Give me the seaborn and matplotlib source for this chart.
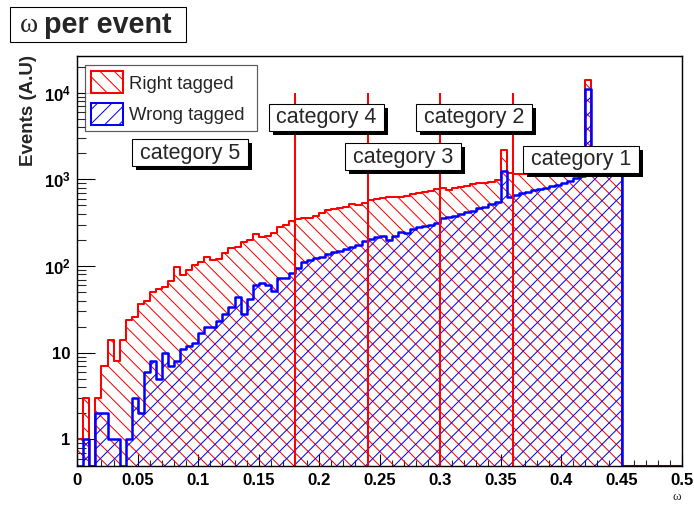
import numpy as np
import pandas as pd
import matplotlib
matplotlib.use("Agg")
import matplotlib.pyplot as plt
import matplotlib.transforms as mtransforms
from matplotlib.patches import Rectangle, Patch
import seaborn as sns

# ---------------------------------------------------------------- data
# omega histogram: 100 bins of width 0.005 between 0 and 0.5
BIN_LO, BIN_HI, N_BINS = 0.0, 0.5, 100

right_tagged = [
    1, 3, 0, 3, 7, 14, 8, 14, 24, 26,
    37, 40, 50, 55, 58, 67, 97, 78, 90, 103,
    112, 128, 117, 120, 140, 160, 167, 191, 200, 233,
    218, 221, 243, 285, 298, 330, 349, 356, 362, 381,
    405, 443, 454, 470, 483, 514, 506, 540, 578, 588,
    606, 622, 622, 628, 644, 670, 690, 710, 740, 766,
    790, 755, 800, 820, 845, 875, 900, 915, 945, 983,
    2180, 1170, 1160, 1160, 1150, 1150, 1150, 1140, 1150, 1150,
    1150, 1150, 1160, 1160, 14000, 1160, 1160, 1150, 1150, 1150,
    0, 0, 0, 0, 0, 0, 0, 0, 0, 0,
]

wrong_tagged = [
    0, 1, 0, 2, 2, 1, 1, 0, 1, 3,
    2, 6, 8, 5, 10, 7, 8, 11, 12, 13,
    17, 20, 20, 23, 28, 34, 44, 28, 42, 60,
    64, 60, 52, 72, 72, 83, 94, 112, 117, 125,
    128, 137, 144, 149, 157, 167, 175, 195, 208, 218,
    223, 200, 225, 250, 243, 265, 280, 290, 297, 310,
    356, 365, 378, 400, 424, 437, 464, 483, 519, 552,
    1260, 632, 660, 690, 720, 750, 770, 790, 830, 870,
    920, 970, 1030, 1090, 11000, 1110, 1110, 1120, 1120, 1130,
    0, 0, 0, 0, 0, 0, 0, 0, 0, 0,
]

series_names = ["Right tagged", "Wrong tagged"]

# omega boundaries between the tagging categories
category_cuts = [0.18, 0.24, 0.30, 0.36]
category_names = ["category 5", "category 4", "category 3", "category 2", "category 1"]

x_tick_values = [0, 0.05, 0.1, 0.15, 0.2, 0.25, 0.3, 0.35, 0.4, 0.45, 0.5]
x_tick_labels = ["0", "0.05", "0.1", "0.15", "0.2", "0.25", "0.3", "0.35", "0.4", "0.45", "0.5"]
y_tick_values = [1, 10, 100, 1000, 10000]
y_tick_labels = ["1", "10", r"$\mathbf{10^{2}}$", r"$\mathbf{10^{3}}$", r"$\mathbf{10^{4}}$"]

# ---------------------------------------------------------------- style
W, H, DPI = 694, 505, 86
RED, BLUE = "#ff0000", "#0000ff"
Y_MIN, Y_MAX = 0.4945, 26500.0
CUT_TOP = 1.0e4

sns.set_theme(style="white")
plt.rcParams["font.family"] = ["Liberation Sans", "DejaVu Sans"]
plt.rcParams["mathtext.fontset"] = "custom"
plt.rcParams["mathtext.rm"] = "Liberation Sans"
plt.rcParams["mathtext.bf"] = "Liberation Sans:bold"
plt.rcParams["hatch.linewidth"] = 0.85

fig = plt.figure(figsize=(W / DPI, H / DPI), dpi=DPI)
fig.patch.set_facecolor("white")
# pixel coordinates with the origin in the top-left corner
px = mtransforms.Affine2D().scale(1.0 / W, -1.0 / H).translate(0, 1) + fig.transFigure

ax_left, ax_top, ax_right, ax_bottom = 77.3, 56.0, 682.0, 466.0
ax = fig.add_axes([ax_left / W, 1 - ax_bottom / H,
                   (ax_right - ax_left) / W, (ax_bottom - ax_top) / H])
ax.set_facecolor("white")

edges = np.linspace(BIN_LO, BIN_HI, N_BINS + 1)
centers = 0.5 * (edges[:-1] + edges[1:])
df = pd.DataFrame({
    "omega": centers,
    series_names[0]: right_tagged,
    series_names[1]: wrong_tagged,
})
# empty bins are drawn on the lower edge of the frame
for name in series_names:
    df[name + " shown"] = df[name].clip(lower=Y_MIN)

for name, color, hatch, lw in [(series_names[0], RED, "\\\\", 1.7),
                               (series_names[1], BLUE, "//", 2.1)]:
    sns.histplot(data=df, x="omega", weights=name + " shown",
                 bins=edges.tolist(), element="step", fill=True, color=color,
                 facecolor="none", edgecolor=color, hatch=hatch, linewidth=lw, ax=ax)

ax.vlines(category_cuts, Y_MIN, CUT_TOP, colors=RED, linewidth=1.7, zorder=4)

ax.set_yscale("log")
ax.set_xlim(BIN_LO, BIN_HI)
ax.set_ylim(Y_MIN, Y_MAX)
ax.set_xlabel("")
ax.set_ylabel("")

ax.set_xticks(x_tick_values)
ax.set_xticklabels(x_tick_labels, fontweight="bold", fontsize=14)
ax.set_xticks(np.arange(0.0, 0.5001, 0.01), minor=True)
ax.set_yticks(y_tick_values)
ax.set_yticklabels(y_tick_labels, fontweight="bold", fontsize=14)
minor_y = [m * 10.0 ** e for e in range(-1, 5) for m in range(2, 10)]
ax.set_yticks([v for v in minor_y if Y_MIN <= v <= Y_MAX], minor=True)
ax.yaxis.set_minor_formatter(matplotlib.ticker.NullFormatter())
ax.tick_params(axis="x", which="major", direction="in", length=10, width=0.9,
               pad=5.5, bottom=True, top=False, colors="black")
ax.tick_params(axis="x", which="minor", direction="in", length=5, width=0.9,
               bottom=True, top=False)
ax.tick_params(axis="y", which="major", direction="in", length=15, width=0.9,
               pad=5.5, left=True, right=False, colors="black")
ax.tick_params(axis="y", which="minor", direction="in", length=7.5, width=0.9,
               left=True, right=False)
for s in ax.spines.values():
    s.set_color("black")
    s.set_linewidth(1.2)
    s.set_zorder(6)

# axis titles
fig.text(29, 55, "Events (A.U)", transform=px, rotation=90, ha="center", va="top",
         fontsize=15.7, fontweight="bold")
fig.text(677, 497, "ω", transform=px, ha="center", va="center",
         fontsize=11, family=["Liberation Serif", "DejaVu Serif"])

# legend
handles = [
    Patch(facecolor="white", edgecolor=RED, hatch="\\\\", linewidth=1.7, label=series_names[0]),
    Patch(facecolor="white", edgecolor=BLUE, hatch="//", linewidth=1.7, label=series_names[1]),
]
leg = ax.legend(handles=handles, loc="upper left", mode="expand",
                bbox_to_anchor=(85 / W, 1 - 133 / H, 172 / W, 68 / H),
                bbox_transform=fig.transFigure,
                borderaxespad=0, fancybox=False, frameon=True, fontsize=15.5,
                handlelength=1.7, handleheight=1.45, handletextpad=0.3,
                labelspacing=0.5, borderpad=0.35)
leg.get_frame().set_edgecolor("#333333")
leg.get_frame().set_linewidth(1.0)
leg.set_zorder(10)


def pave(x0, y0, x1, y1, shadow=4):
    """White box in pixel coordinates, optionally with a black drop shadow."""
    if shadow:
        fig.add_artist(Rectangle((x0 + shadow, y0 + shadow), x1 - x0, y1 - y0,
                                 transform=px, facecolor="black", edgecolor="black",
                                 linewidth=0, zorder=20))
    fig.add_artist(Rectangle((x0, y0), x1 - x0, y1 - y0, transform=px,
                             facecolor="white", edgecolor="black", linewidth=0.9, zorder=21))


# category labels
category_boxes = [(132, 139, 248, 166), (269, 104, 384, 131), (345, 143, 461, 170),
                  (416, 104, 532, 131), (523, 146, 639, 173)]
for (x0, y0, x1, y1), name in zip(category_boxes, category_names):
    pave(x0, y0, x1, y1)
    fig.text((x0 + x1) / 2, (y0 + y1) / 2 + 0.5, name, transform=px, ha="center",
             va="center", fontsize=18, zorder=22)

# title
pave(10, 7, 186, 42, shadow=0)
fig.text(28.5, 25, "ω", transform=px, ha="center", va="center", fontsize=23,
         family=["Liberation Serif", "DejaVu Serif"], zorder=22)
fig.text(44, 25, "per event", transform=px, ha="left", va="center", fontsize=24,
         fontweight="bold", zorder=22)

fig.savefig("out.png", dpi=DPI, facecolor="white")
